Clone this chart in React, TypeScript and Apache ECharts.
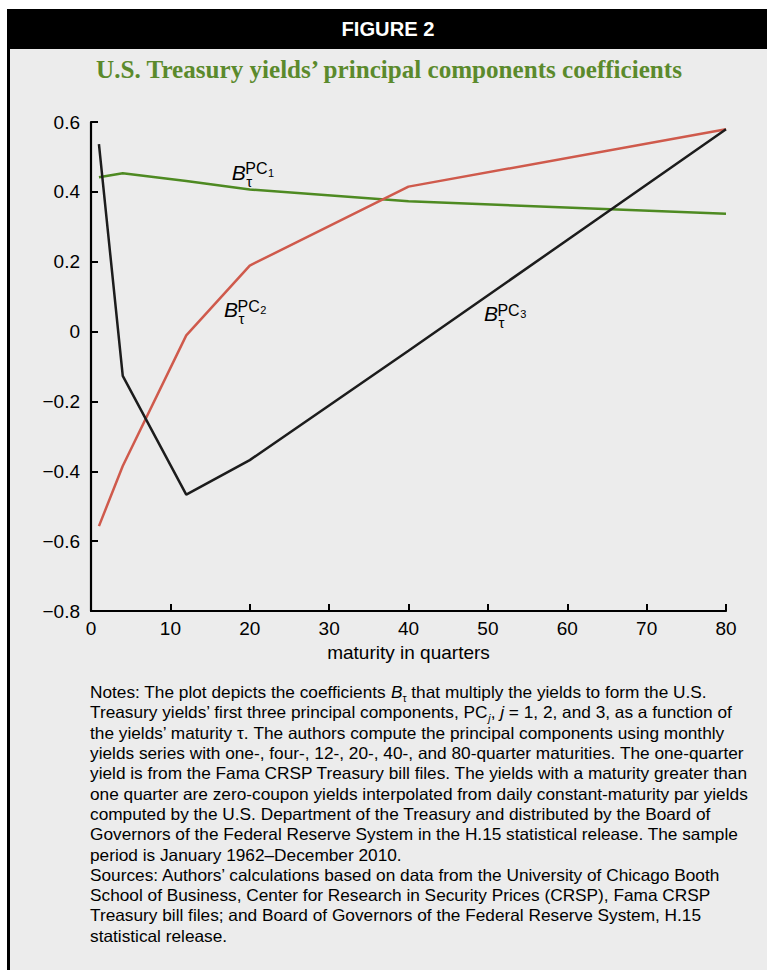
import React, { useEffect, useRef } from "react";
import * as echarts from "echarts";

// ---------- data ----------
const maturities = [1, 4, 12, 20, 40, 80];
const pc1 = [0.442, 0.453, 0.431, 0.407, 0.373, 0.337];
const pc2 = [-0.557, -0.385, -0.011, 0.189, 0.415, 0.579];
const pc3 = [0.537, -0.127, -0.467, -0.368, -0.055, 0.579];
const seriesNames = ["PC1", "PC2", "PC3"];
const seriesDigits = ["1", "2", "3"];
// label anchors (data coordinates of the "B" glyph left/baseline)
const labelAnchorX = [17.73, 16.76, 49.5];
const labelAnchorY = [0.436, 0.043, 0.031];

const headerText = "FIGURE 2";
const titleText = "U.S. Treasury yields’ principal components coefficients";
const xAxisName = "maturity in quarters";

type Seg = { t: string; i?: boolean; sub?: boolean };
const noteLines: Seg[][] = [
  [
    { t: "Notes: The plot depicts the coefficients " },
    { t: "B", i: true },
    { t: "τ", sub: true },
    { t: " that multiply the yields to form the U.S." },
  ],
  [
    { t: "Treasury yields’ first three principal components, PC" },
    { t: "j", i: true, sub: true },
    { t: ", " },
    { t: "j", i: true },
    { t: " = 1, 2, and 3, as a function of" },
  ],
  [{ t: "the yields’ maturity τ. The authors compute the principal components using monthly" }],
  [{ t: "yields series with one-, four-, 12-, 20-, 40-, and 80-quarter maturities. The one-quarter" }],
  [{ t: "yield is from the Fama CRSP Treasury bill files. The yields with a maturity greater than" }],
  [{ t: "one quarter are zero-coupon yields interpolated from daily constant-maturity par yields" }],
  [{ t: "computed by the U.S. Department of the Treasury and distributed by the Board of" }],
  [{ t: "Governors of the Federal Reserve System in the H.15 statistical release. The sample" }],
  [{ t: "period is January 1962–December 2010." }],
  [{ t: "Sources: Authors’ calculations based on data from the University of Chicago Booth" }],
  [{ t: "School of Business, Center for Research in Security Prices (CRSP), Fama CRSP" }],
  [{ t: "Treasury bill files; and Board of Governors of the Federal Reserve System, H.15" }],
  [{ t: "statistical release." }],
];

const SANS = '"Liberation Sans", Arial, Helvetica, sans-serif';
const SERIF = '"Liberation Serif", "Times New Roman", serif';
const GREEN = "#4e8a22";
const RED = "#cf5a4c";
const BLACK = "#1c1c1c";

let ctx2d: CanvasRenderingContext2D | null = null;
function measure(text: string, size: number, family: string, weight = "normal", style = "normal") {
  if (!ctx2d) ctx2d = document.createElement("canvas").getContext("2d");
  if (!ctx2d) return text.length * size * 0.5;
  ctx2d.font = `${style} ${weight} ${size}px ${family}`;
  return ctx2d.measureText(text).width;
}

function txt(
  text: string,
  x: number,
  baseline: number,
  size: number,
  opts: { family?: string; weight?: string; italic?: boolean; fill?: string; align?: string; scaleX?: number } = {}
) {
  return {
    type: "text",
    x,
    y: baseline - 0.3465 * size,
    scaleX: opts.scaleX ?? 1,
    silent: true,
    style: {
      text,
      fontSize: size,
      fontFamily: opts.family ?? SANS,
      fontWeight: opts.weight ?? "normal",
      fontStyle: opts.italic ? "italic" : "normal",
      fill: opts.fill ?? "#000",
      align: opts.align ?? "left",
      textAlign: opts.align ?? "left",
      verticalAlign: "middle",
      textVerticalAlign: "middle",
    },
  };
}

export default function App() {
  const ref = useRef<HTMLDivElement>(null);
  useEffect(() => {
    if (!ref.current) return;
    const chart = echarts.init(ref.current, undefined, { renderer: "svg" });
    const colors = [GREEN, RED, BLACK];
    const values = [pc1, pc2, pc3];
    chart.setOption({
      animation: false,
      backgroundColor: "#ececec",
      grid: { left: 91, right: 41, top: 122, bottom: 359, containLabel: false, outerBoundsMode: "none" },
      xAxis: {
        type: "value",
        min: 0,
        max: 80,
        interval: 10,
        name: xAxisName,
        nameLocation: "middle",
        nameGap: 29,
        nameTextStyle: { fontSize: 19, color: "#000", fontFamily: SANS },
        axisLine: { onZero: false, lineStyle: { color: "#000", width: 2.2 } },
        axisTick: { show: true, inside: true, length: 7, lineStyle: { color: "#000", width: 2 } },
        axisLabel: { fontSize: 19, color: "#000", fontFamily: SANS, margin: 8 },
        splitLine: { show: false },
      },
      yAxis: {
        type: "value",
        min: -0.8,
        max: 0.6,
        interval: 0.2,
        axisLine: { show: true, onZero: false, lineStyle: { color: "#000", width: 2.2 } },
        axisTick: { show: true, inside: true, length: 7, lineStyle: { color: "#000", width: 2 } },
        axisLabel: {
          fontSize: 19,
          color: "#000",
          fontFamily: SANS,
          margin: 11,
          formatter: (v: number) => {
            const r = Math.round(v * 10) / 10;
            if (r === 0) return "0";
            return r < 0 ? "−" + Math.abs(r).toFixed(1) : r.toFixed(1);
          },
        },
        splitLine: { show: false },
      },
      series: values.map((vals, k) => ({
        name: seriesNames[k],
        type: "line",
        data: maturities.map((m, j) => [m, vals[j]]),
        showSymbol: false,
        symbol: "none",
        lineStyle: { color: colors[k], width: 2.5 },
        z: 2 + k,
      })),
    });

    const graphics: any[] = [];
    // frame
    graphics.push({ type: "rect", shape: { x: 0, y: 0, width: 767, height: 9 }, style: { fill: "#fff" }, silent: true });
    graphics.push({ type: "rect", shape: { x: 0, y: 0, width: 7, height: 970 }, style: { fill: "#fff" }, silent: true });
    graphics.push({ type: "rect", shape: { x: 7, y: 9, width: 760, height: 40 }, style: { fill: "#000" }, silent: true });
    graphics.push({ type: "rect", shape: { x: 7, y: 49, width: 3, height: 921 }, style: { fill: "#000" }, silent: true });

    // header
    const hw = measure(headerText, 20, SANS, "bold");
    graphics.push(txt(headerText, 388, 36, 20, { weight: "bold", fill: "#fff", align: "center", scaleX: 93 / hw }));
    // title
    const tw = measure(titleText, 25, SERIF, "bold");
    graphics.push(txt(titleText, 389, 78, 25, { family: SERIF, weight: "bold", fill: "#5b8a2c", align: "center", scaleX: 588 / tw }));

    // series labels
    for (let k = 0; k < 3; k++) {
      const p = chart.convertToPixel({ xAxisIndex: 0, yAxisIndex: 0 }, [labelAnchorX[k], labelAnchorY[k]]) as number[];
      const [px, py] = p;
      graphics.push(txt("B", px, py, 21, { italic: true }));
      graphics.push(txt("τ", px + 14.5, py + 7, 15));
      graphics.push(txt("PC", px + 13.5, py - 5, 16));
      graphics.push(txt(seriesDigits[k], px + 36.3, py - 2.5, 11));
    }

    // notes
    const NS = 16.5;
    const refW = measure(noteLines[5][0].t, NS, SANS);
    const sc = 658 / refW;
    const x0 = 90;
    const base0 = 698.5;
    const step = 20.3;
    noteLines.forEach((segs, li) => {
      let cur = 0;
      const bl = base0 + li * step;
      segs.forEach((s) => {
        const size = s.sub ? 10 : NS;
        const w = measure(s.t, size, SANS, "normal", s.i ? "italic" : "normal");
        graphics.push(
          txt(s.t, x0 + cur * sc, s.sub ? bl + 3.5 : bl, size, { italic: !!s.i, scaleX: sc })
        );
        cur += w;
      });
    });

    chart.setOption({ graphic: { elements: graphics } });
    return () => chart.dispose();
  }, []);
  return (
    <div
      ref={ref}
      style={{ position: "absolute", left: 0, top: 0, width: 767, height: 970 }}
    />
  );
}
